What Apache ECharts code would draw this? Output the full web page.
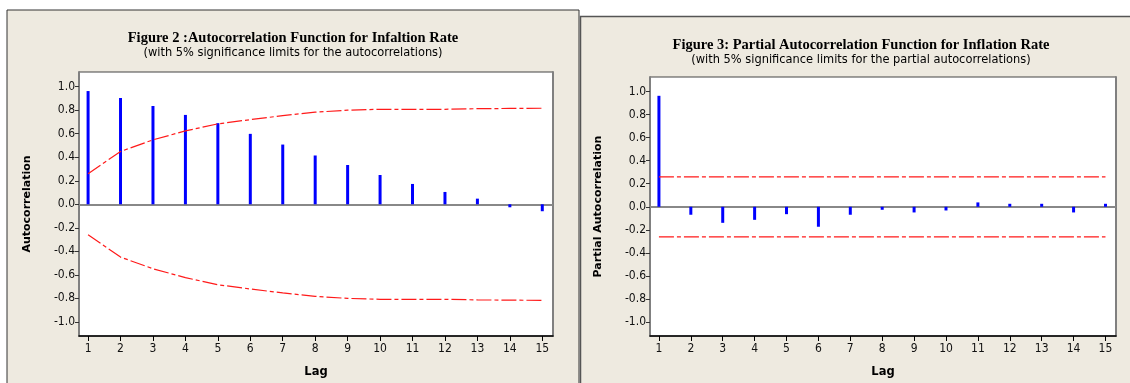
<!DOCTYPE html>
<html>
<head>
<meta charset="utf-8">
<script src="https://cdn.jsdelivr.net/npm/echarts@6/dist/echarts.min.js"></script>
<style>
  body { margin: 0; background: #fff; }
  #main { width: 1130px; height: 383px; }
</style>
</head>
<body>
<div id="main"></div>
<script>
// lags 1..15
var lags = [1, 2, 3, 4, 5, 6, 7, 8, 9, 10, 11, 12, 13, 14, 15];
var yTicks = [-1.0, -0.8, -0.6, -0.4, -0.2, 0.0, 0.2, 0.4, 0.6, 0.8, 1.0];

// Figure 2: autocorrelations and 5% limits
var acfValues = [0.963, 0.904, 0.836, 0.760, 0.690, 0.599, 0.508, 0.415, 0.334, 0.249, 0.173, 0.105, 0.048, -0.017, -0.059];
var acfUpper = [0.260, 0.449, 0.548, 0.624, 0.684, 0.720, 0.754, 0.783, 0.800, 0.808, 0.808, 0.808, 0.813, 0.815, 0.817];
var acfLower = [-0.260, -0.449, -0.548, -0.624, -0.684, -0.720, -0.754, -0.783, -0.800, -0.808, -0.808, -0.808, -0.813, -0.815, -0.817];

// Figure 3: partial autocorrelations and 5% limits
var pacfValues = [0.962, -0.069, -0.139, -0.113, -0.064, -0.173, -0.069, -0.023, -0.049, -0.032, 0.038, 0.010, 0.020, -0.049, 0.015];
var pacfUpper = [0.26, 0.26, 0.26, 0.26, 0.26, 0.26, 0.26, 0.26, 0.26, 0.26, 0.26, 0.26, 0.26, 0.26, 0.26];
var pacfLower = [-0.26, -0.26, -0.26, -0.26, -0.26, -0.26, -0.26, -0.26, -0.26, -0.26, -0.26, -0.26, -0.26, -0.26, -0.26];

var sansFont = 'DejaVu Sans Condensed, Liberation Sans, sans-serif';
var panelColor = '#EEEAE0';

function pairs(ys) {
  return lags.map(function (x, i) { return [x, ys[i]]; });
}

function xAxisFor(idx) {
  return {
    gridIndex: idx,
    type: 'value',
    min: 0.72,
    max: 15.33,
    name: 'Lag',
    nameLocation: 'middle',
    nameGap: 30,
    nameTextStyle: { color: '#000', fontWeight: 'bold', fontSize: 11.5, fontFamily: 'DejaVu Sans' },
    axisLine: { show: true, onZero: false, lineStyle: { color: '#000', width: 1.5 } },
    axisTick: { show: true, customValues: lags, length: 5, lineStyle: { color: '#000' } },
    axisLabel: { customValues: lags, color: '#111', fontSize: 12, margin: 7, fontFamily: sansFont },
    splitLine: { show: false }
  };
}

function yAxisFor(idx, name) {
  return {
    gridIndex: idx,
    type: 'value',
    min: -1.12,
    max: 1.125,
    name: name,
    nameLocation: 'middle',
    nameGap: 46,
    nameTextStyle: { color: '#000', fontWeight: 'bold', fontSize: 11, fontFamily: 'DejaVu Sans' },
    axisLine: { show: true, onZero: false, lineStyle: { color: '#808080', width: 2 } },
    axisTick: { show: true, customValues: yTicks, length: 4, lineStyle: { color: '#333' } },
    axisLabel: {
      customValues: yTicks, color: '#111', fontSize: 12, margin: 4, fontFamily: sansFont,
      formatter: function (v) { return v.toFixed(1); }
    },
    splitLine: { show: false }
  };
}

function rightBorder(idx) {
  return {
    gridIndex: idx, type: 'value', position: 'right', min: -1.12, max: 1.125,
    axisLine: { show: true, onZero: false, lineStyle: { color: '#808080', width: 2 } },
    axisTick: { show: false }, axisLabel: { show: false }, splitLine: { show: false }
  };
}

var limitStyle = { color: '#ff1a1a', width: 1.2, type: [15, 3, 4, 3] };

function stems(idx, yIdx, vals) {
  return {
    type: 'bar',
    xAxisIndex: idx,
    yAxisIndex: yIdx,
    barWidth: 3,
    barMinHeight: 3,
    itemStyle: { color: '#0000ff' },
    data: pairs(vals),
    z: 3,
    markLine: {
      silent: true, symbol: 'none', label: { show: false }, z: 1,
      lineStyle: { color: '#888', width: 2, type: 'solid' },
      data: [{ yAxis: 0 }]
    }
  };
}

function limitLine(idx, yIdx, vals) {
  return {
    type: 'line',
    xAxisIndex: idx,
    yAxisIndex: yIdx,
    symbol: 'none',
    lineStyle: limitStyle,
    data: pairs(vals),
    z: 4
  };
}

var chart = echarts.init(document.getElementById('main'));
chart.setOption({
  animation: false,
  graphic: [
    { type: 'rect', z: -10, shape: { x: 7, y: 10, width: 572, height: 390 },
      style: { fill: panelColor, stroke: '#333', lineWidth: 1 } },
    { type: 'rect', z: -10, shape: { x: 580.5, y: 16.5, width: 570, height: 390 },
      style: { fill: panelColor, stroke: '#555', lineWidth: 1.5 } },
    { type: 'text', x: 293, y: 38, style: { text: 'Figure 2 :Autocorrelation Function for Infaltion Rate',
      font: 'bold 14.5px "Liberation Serif", serif', fill: '#000', align: 'center', verticalAlign: 'middle' } },
    { type: 'text', x: 293, y: 53, style: { text: '(with 5% significance limits for the autocorrelations)',
      font: '12.7px ' + sansFont, fill: '#000', align: 'center', verticalAlign: 'middle' } },
    { type: 'text', x: 861, y: 45, style: { text: 'Figure 3: Partial Autocorrelation Function for Inflation Rate',
      font: 'bold 14.5px "Liberation Serif", serif', fill: '#000', align: 'center', verticalAlign: 'middle' } },
    { type: 'text', x: 861, y: 60, style: { text: '(with 5% significance limits for the partial autocorrelations)',
      font: '12.7px ' + sansFont, fill: '#000', align: 'center', verticalAlign: 'middle' } }
  ],
  grid: [
    { left: 79, top: 72, width: 474, height: 265, show: true, backgroundColor: '#fff', borderColor: '#444', borderWidth: 1 },
    { left: 650, top: 77, width: 466, height: 261, show: true, backgroundColor: '#fff', borderColor: '#444', borderWidth: 1 }
  ],
  xAxis: [xAxisFor(0), xAxisFor(1)],
  yAxis: [yAxisFor(0, 'Autocorrelation'), yAxisFor(1, 'Partial Autocorrelation'), rightBorder(0), rightBorder(1)],
  series: [
    stems(0, 0, acfValues),
    limitLine(0, 0, acfUpper),
    limitLine(0, 0, acfLower),
    stems(1, 1, pacfValues),
    limitLine(1, 1, pacfUpper),
    limitLine(1, 1, pacfLower)
  ]
});
</script>
</body>
</html>
